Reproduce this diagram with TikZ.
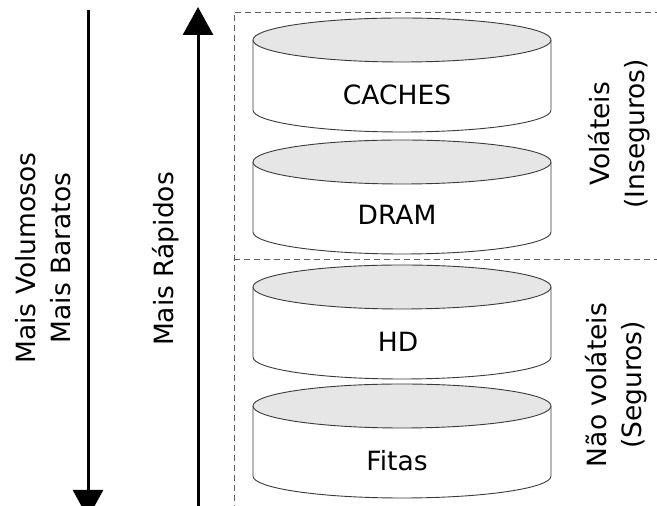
\documentclass[tikz,border=0pt]{standalone}
\usepackage{fontspec}
\setmainfont{DejaVu Sans}
\usetikzlibrary{arrows.meta}
\definecolor{topgray}{HTML}{E6E6E6}
\definecolor{edgegray}{HTML}{3A3A3A}
\definecolor{dashgray}{HTML}{606060}
\tikzset{
  bigarrow/.style={line width=3pt,-{Triangle[width=30pt,length=28pt]}},
  sepline/.style={dashgray,line width=0.9pt,dash pattern=on 6pt off 4pt},
  lbl/.style={font=\fontsize{26.5}{35}\selectfont,align=center,inner sep=0pt,rotate=90},
  disktext/.style={font=\fontsize{26.5}{32}\selectfont,inner sep=0pt},
  pics/disk/.style={code={
    \fill[white] (-149,0) -- (-149,-70) arc (180:360:149 and 22) -- (149,0) -- cycle;
    \draw[edgegray,line width=0.9pt] (-149,0) -- (-149,-70) arc (180:360:149 and 22) -- (149,0);
    \draw[edgegray,line width=0.9pt,fill=topgray] (0,0) ellipse (149 and 22);
  }}
}
\begin{document}
\begin{tikzpicture}[x=1pt,y=1pt]
\useasboundingbox (0,0) rectangle (657,506);
% arrows
\coordinate (ltop) at (88,496);
\coordinate (lbot) at (88,-12);
\coordinate (rbot) at (198,-10);
\coordinate (rtop) at (198,499);
\draw[bigarrow] (ltop) -- (lbot);
\draw[bigarrow] (rbot) -- (rtop);
% dashed separators
\coordinate (dtl) at (234,494);
\coordinate (dtr) at (660,494);
\coordinate (dbl) at (234,-5);
\coordinate (dml) at (234,247);
\coordinate (dmr) at (660,247);
\draw[sepline] (dbl) -- (dtl) -- (dtr);
\draw[sepline] (dml) -- (dmr);
% disks
\pic at (402,466) {disk};
\pic at (402,344) {disk};
\pic at (402,219) {disk};
\pic at (402,100) {disk};
\node[disktext] (caches) at (397,411) {CACHES};
\node[disktext] (dram) at (397,291) {DRAM};
\node[disktext] (hd) at (398,164) {HD};
\node[disktext] (fitas) at (397,45) {Fitas};
% labels
\node[lbl] (vol) at (43,248) {Mais Volumosos\\Mais Baratos};
\node[lbl] (rap) at (165.5,247) {Mais Rápidos};
\node[lbl] (volat) at (619.5,372) {Voláteis\\(Inseguros)};
\node[lbl] (naovol) at (616,121) {Não voláteis\\(Seguros)};
\end{tikzpicture}
\end{document}
